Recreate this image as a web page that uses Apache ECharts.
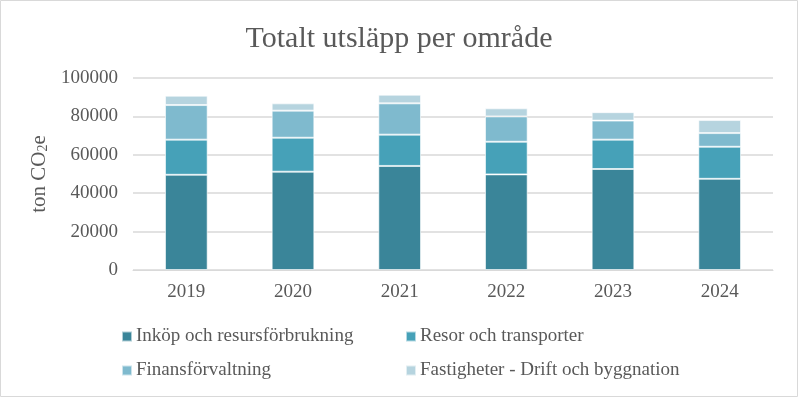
<!DOCTYPE html>
<html>
<head>
<meta charset="utf-8">
<script src="https://cdn.jsdelivr.net/npm/echarts@6/dist/echarts.min.js"></script>
<style>
  html, body { margin: 0; padding: 0; background: #fff; }
  #main { width: 798px; height: 397px; }
</style>
</head>
<body>
<div id="main"></div>
<script>
// år på x-axeln
var years = ['2019', '2020', '2021', '2022', '2023', '2024'];
// utsläpp per område, ton CO2e
var inkop = [49600, 51200, 54200, 49800, 52600, 47500];
var resor = [18300, 17700, 16300, 17000, 15300, 16700];
var finans = [18000, 14100, 16300, 13200, 9900, 7100];
var fastigheter = [4900, 3800, 4500, 4200, 4400, 6800];

var names = ['Inköp och resursförbrukning', 'Resor och transporter', 'Finansförvaltning', 'Fastigheter - Drift och byggnation'];
var colors = ['#3a8599', '#46a1b8', '#7fbace', '#b6d4df'];
var font = '"Liberation Serif", "Times New Roman", serif';

var chart = echarts.init(document.getElementById('main'));

function bar(i, data) {
  return {
    name: names[i],
    type: 'bar',
    stack: 'total',
    barWidth: '40%',
    data: data,
    itemStyle: { color: colors[i], borderColor: 'rgba(255,255,255,0.6)', borderWidth: 1 }
  };
}

function legendAt(i, left, top) {
  return {
    data: [names[i]],
    left: left,
    top: top,
    itemWidth: 10,
    itemHeight: 10,
    itemGap: 0,
    icon: 'rect',
    textStyle: { fontFamily: font, fontSize: 19, color: '#595959', padding: [0, 0, 0, -1] }
  };
}

var option = {
  animation: false,
  title: {
    text: 'Totalt utsläpp per område',
    left: 'center',
    top: 19,
    textStyle: { fontFamily: font, fontSize: 30, fontWeight: 'normal', color: '#595959' }
  },
  graphic: [{
    type: 'rect',
    shape: { x: 0.5, y: 0.5, width: 797, height: 396 },
    style: { fill: 'none', stroke: '#d9d9d9', lineWidth: 1 }
  }],
  legend: [
    legendAt(0, 116, 322),
    legendAt(1, 400, 322),
    legendAt(2, 116, 356),
    legendAt(3, 400, 356)
  ],
  grid: { left: 133, right: 25, top: 78, bottom: 127 },
  xAxis: {
    type: 'category',
    data: years,
    axisTick: { show: false },
    axisLine: { lineStyle: { color: '#d9d9d9', width: 1 } },
    axisLabel: { fontFamily: font, fontSize: 19, color: '#595959', margin: 13 }
  },
  yAxis: {
    type: 'value',
    min: 0,
    max: 100000,
    interval: 20000,
    name: '{a|ton CO}{b|2}{a|e}',
    nameLocation: 'middle',
    nameGap: 83,
    nameRotate: 90,
    nameTextStyle: {
      rich: {
        a: { fontFamily: font, fontSize: 21, color: '#595959' },
        b: { fontFamily: font, fontSize: 14, color: '#595959', verticalAlign: 'bottom', padding: [8, 0, 0, 0] }
      }
    },
    splitLine: { lineStyle: { color: '#d9d9d9', width: 1.5 } },
    axisLabel: {
      fontFamily: font, fontSize: 19, color: '#595959', margin: 15,
      formatter: function (v) { return String(v); }
    }
  },
  series: [
    bar(0, inkop),
    bar(1, resor),
    bar(2, finans),
    bar(3, fastigheter)
  ]
};

chart.setOption(option);
</script>
</body>
</html>
